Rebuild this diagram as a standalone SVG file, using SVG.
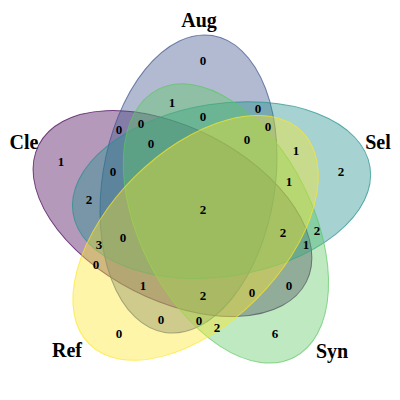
<svg xmlns="http://www.w3.org/2000/svg" width="400" height="400" viewBox="0 0 400 400">
<style>
.set{fill-opacity:0.4;stroke-width:1;stroke-opacity:0.7}
.cnt{font-family:"Liberation Serif","Times New Roman",serif;font-weight:bold;font-size:13px;text-anchor:middle;dominant-baseline:central;fill:#000}
.cat{font-family:"Liberation Serif","Times New Roman",serif;font-weight:bold;font-size:20px;text-anchor:middle;dominant-baseline:central;fill:#000}
</style>
<defs>
<ellipse id="shape" cx="188.5" cy="184" rx="86.3" ry="150.3" transform="rotate(9.15 188.5 184)"/>
</defs>
<rect width="400" height="400" fill="#fff"/>
<g id="Cle" transform="rotate(288 200.8 209.8)"><use href="#shape" class="set" fill="#440154" stroke="#440154"/></g>
<g id="Aug"><use href="#shape" class="set" fill="#3B528B" stroke="#3B528B"/></g>
<g id="Sel" transform="rotate(72 200.8 209.8)"><use href="#shape" class="set" fill="#21908C" stroke="#21908C"/></g>
<g id="Syn" transform="rotate(144 200.8 209.8)"><use href="#shape" class="set" fill="#5DC863" stroke="#5DC863"/></g>
<g id="Ref" transform="rotate(216 200.8 209.8)"><use href="#shape" class="set" fill="#FDE725" stroke="#FDE725"/></g>
<g id="labels">
<text class="cat" x="199" y="20">Aug</text>
<text class="cat" x="378" y="142">Sel</text>
<text class="cat" x="24" y="142">Cle</text>
<text class="cat" x="67" y="350">Ref</text>
<text class="cat" x="332" y="351">Syn</text>
</g>
<g id="counts">
<text class="cnt" x="203" y="60">0</text>
<text class="cnt" x="172" y="102">1</text>
<text class="cnt" x="203" y="116">0</text>
<text class="cnt" x="258" y="108">0</text>
<text class="cnt" x="268" y="126">0</text>
<text class="cnt" x="141" y="123">0</text>
<text class="cnt" x="119" y="129">0</text>
<text class="cnt" x="151" y="143">0</text>
<text class="cnt" x="247" y="139">0</text>
<text class="cnt" x="296" y="150">1</text>
<text class="cnt" x="61" y="161">1</text>
<text class="cnt" x="341" y="171">2</text>
<text class="cnt" x="113" y="171">0</text>
<text class="cnt" x="289" y="181">1</text>
<text class="cnt" x="89" y="199">2</text>
<text class="cnt" x="203" y="209">2</text>
<text class="cnt" x="123" y="237">0</text>
<text class="cnt" x="99" y="244">3</text>
<text class="cnt" x="283" y="232">2</text>
<text class="cnt" x="317" y="230">2</text>
<text class="cnt" x="306" y="244">1</text>
<text class="cnt" x="96" y="264">0</text>
<text class="cnt" x="143" y="285">1</text>
<text class="cnt" x="203" y="295">2</text>
<text class="cnt" x="252" y="292">0</text>
<text class="cnt" x="289" y="285">0</text>
<text class="cnt" x="161" y="319">0</text>
<text class="cnt" x="199" y="320">0</text>
<text class="cnt" x="217" y="327">2</text>
<text class="cnt" x="119" y="333">0</text>
<text class="cnt" x="275" y="333">6</text>
</g>
</svg>
